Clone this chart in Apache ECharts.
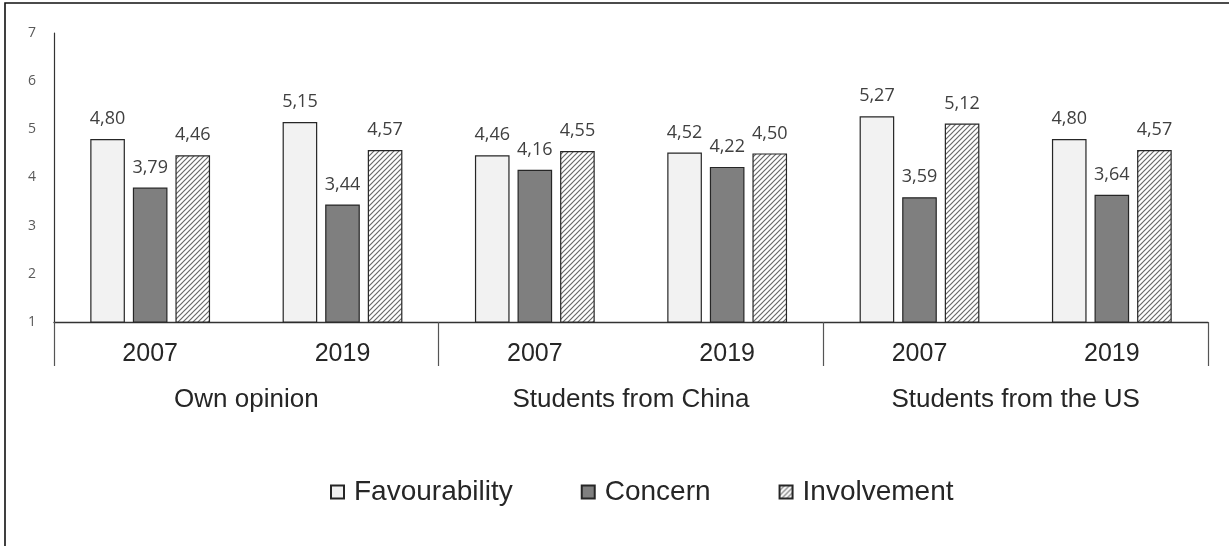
<!DOCTYPE html>
<html>
<head>
<meta charset="utf-8">
<script src="https://cdn.jsdelivr.net/npm/echarts@6/dist/echarts.min.js"></script>
<style>html,body{margin:0;padding:0;background:#fff}#c{width:1229px;height:546px}</style>
</head>
<body>
<div id="c"></div>
<script>
const years = ['2007', '2019', '2007', '2019', '2007', '2019'];
const groups = ['Own opinion', 'Students from China', 'Students from the US'];
const seriesNames = ['Favourability', 'Concern', 'Involvement'];
const favourability = [4.80, 5.15, 4.46, 4.52, 5.27, 4.80];
const concern = [3.79, 3.44, 4.16, 4.22, 3.59, 3.64];
const involvement = [4.46, 4.57, 4.55, 4.50, 5.12, 4.57];

function hatch() {
  const s = 5;
  const cv = document.createElement('canvas');
  cv.width = s; cv.height = s;
  const ctx = cv.getContext('2d');
  ctx.fillStyle = '#ffffff';
  ctx.fillRect(0, 0, s, s);
  ctx.strokeStyle = '#6a6a6a';
  ctx.lineWidth = 1.2;
  ctx.beginPath();
  ctx.moveTo(-1, s + 1); ctx.lineTo(s + 1, -1);
  ctx.moveTo(-1, 1); ctx.lineTo(1, -1);
  ctx.moveTo(s - 1, s + 1); ctx.lineTo(s + 1, s - 1);
  ctx.stroke();
  return cv;
}

const chart = echarts.init(document.getElementById('c'), null, {renderer: 'canvas'});
const lbl = {
  show: true, position: 'top', distance: 11,
  fontFamily: 'Open Sans', fontSize: 18, color: '#404040',
  formatter: p => p.value.toFixed(2).replace('.', ',')
};
const border = {borderColor: '#262626', borderWidth: 1.2};
chart.setOption({
  animation: false,
  backgroundColor: '#fff',
  graphic: [{
    type: 'rect', shape: {x: 5, y: 3, width: 1300, height: 600},
    style: {fill: 'none', stroke: '#111', lineWidth: 1.6}, silent: true
  }],
  grid: {left: 54, right: 21, top: 33, bottom: 224},
  legend: {
    data: seriesNames, top: 473, left: 325, icon: 'rect',
    itemWidth: 13, itemHeight: 13, itemGap: 68,
    textStyle: {fontFamily: 'Liberation Sans', fontSize: 28, color: '#262626', padding: [0, 0, 0, 5]}
  },
  xAxis: [{
    type: 'category', data: years,
    axisLine: {lineStyle: {color: '#333', width: 1.4}},
    axisTick: {show: false},
    axisLabel: {fontFamily: 'Liberation Sans', fontSize: 25, color: '#262626', margin: 20}
  }, {
    type: 'category', data: groups, position: 'bottom',
    axisLine: {show: false},
    axisTick: {show: true, length: 44, lineStyle: {color: '#555', width: 1.2}},
    axisLabel: {fontFamily: 'Liberation Sans', fontSize: 26, color: '#262626', margin: 65}
  }],
  yAxis: {
    type: 'value', min: 1, max: 7, interval: 1,
    axisLine: {show: true, lineStyle: {color: '#333', width: 1.2}},
    axisTick: {show: false},
    splitLine: {show: false},
    axisLabel: {fontFamily: 'Open Sans', fontSize: 14, color: '#595959', margin: 18}
  },
  series: [
    {name: seriesNames[0], type: 'bar', data: favourability, barWidth: '18%', barGap: '23%',
     itemStyle: Object.assign({color: '#f2f2f2'}, border), label: lbl},
    {name: seriesNames[1], type: 'bar', data: concern, barWidth: '18%', barGap: '23%',
     itemStyle: Object.assign({color: '#7f7f7f'}, border), label: lbl},
    {name: seriesNames[2], type: 'bar', data: involvement, barWidth: '18%', barGap: '23%',
     itemStyle: Object.assign({color: {image: hatch(), repeat: 'repeat'}}, border), label: lbl}
  ]
});
</script>
</body>
</html>
